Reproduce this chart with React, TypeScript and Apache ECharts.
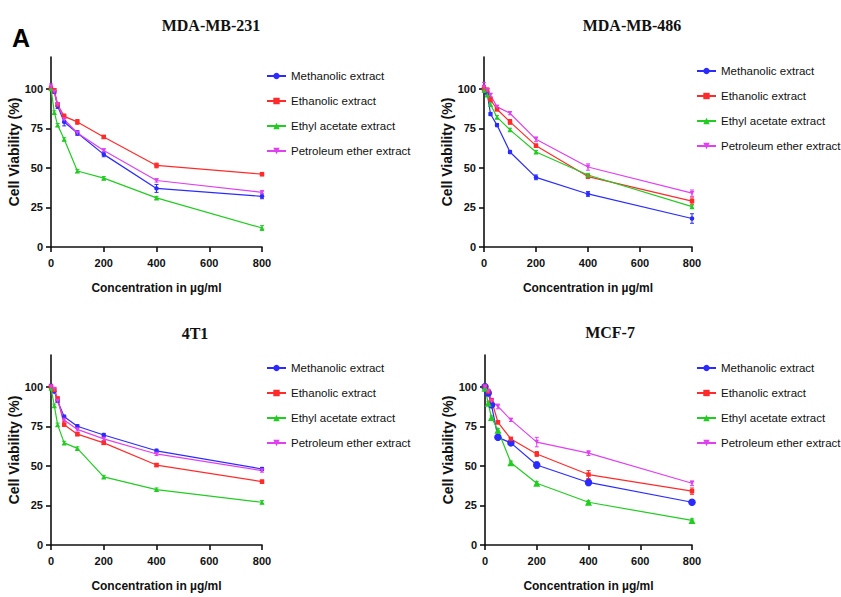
import React, { useEffect, useRef } from "react";
import * as echarts from "echarts";

// ---- Data ----
const concentrations = [0, 12.5, 25, 50, 100, 200, 400, 800];
const seriesNames = [
  "Methanolic extract",
  "Ethanolic extract",
  "Ethyl acetate extract",
  "Petroleum ether extract",
];
const panelTitles = ["MDA-MB-231", "MDA-MB-486", "4T1", "MCF-7"];
const yTicks = [0, 25, 50, 75, 100];
const xTicks = [0, 200, 400, 600, 800];

// MDA-MB-231
const mda231Methanolic = [100, 98, 89, 79, 72, 58.5, 37, 32];
const mda231Ethanolic = [100, 99, 90, 82.5, 79, 69.5, 51.5, 46];
const mda231EthylAcetate = [100, 85, 77, 68, 48, 43.5, 31, 12];
const mda231Petroleum = [101, 98, 90, 80.5, 72, 61, 42, 34.5];
const mda231MethanolicErr = [1, 1, 1.5, 2.5, 1.5, 1.5, 2.5, 1.5];
const mda231EthanolicErr = [1, 1, 1, 1.5, 1.5, 1, 1.5, 1];
const mda231EthylAcetateErr = [1, 1, 1, 1, 1, 1, 1, 1.5];
const mda231PetroleumErr = [2, 1, 1, 1, 1, 1, 1, 1];

// MDA-MB-486
const mda486Methanolic = [100, 97, 84, 77, 60, 44, 33.5, 18];
const mda486Ethanolic = [100, 99, 93, 87, 79, 64, 44.5, 29];
const mda486EthylAcetate = [99, 96, 90, 82, 74, 60, 45.5, 25.5];
const mda486Petroleum = [101, 99, 96, 88.5, 84.5, 68, 50.5, 34];
const mda486MethanolicErr = [2, 1, 1, 1, 1, 1.5, 1.5, 3];
const mda486EthanolicErr = [1, 1.5, 1.5, 1, 1.5, 1, 1, 2];
const mda486EthylAcetateErr = [1, 1, 1, 1, 1, 1, 1, 1];
const mda486PetroleumErr = [3, 1, 1, 1, 1, 1.5, 2, 2];

// 4T1
const t41Methanolic = [100.5, 97, 91, 81, 75, 69.5, 59.5, 48];
const t41Ethanolic = [100, 98, 92.5, 76, 70, 64.5, 50.5, 40];
const t41EthylAcetate = [99, 88, 76, 64.5, 61, 43, 35, 27];
const t41Petroleum = [100, 98.5, 91, 79, 73, 67, 57.5, 47];
const t41MethanolicErr = [1, 1, 1, 1, 1, 1, 1, 1];
const t41EthanolicErr = [1, 1, 1, 1, 1, 1, 1, 1];
const t41EthylAcetateErr = [1, 1, 1, 1, 1, 1, 1, 1];
const t41PetroleumErr = [1, 1, 1, 1, 1, 1, 1, 1];

// MCF-7
const mcf7Methanolic = [100, 96, 88.5, 68, 64.5, 50.5, 39.5, 27];
const mcf7Ethanolic = [100, 97, 91.5, 77.5, 67, 57.5, 44.5, 34];
const mcf7EthylAcetate = [99, 89.5, 80.5, 72.5, 52, 39, 27, 15.5];
const mcf7Petroleum = [100, 97, 91, 87.5, 79, 65, 58, 39];
const mcf7MethanolicErr = [1, 1.5, 1.5, 1.5, 1.5, 2, 2, 1];
const mcf7EthanolicErr = [1.5, 1.5, 1, 1, 1, 1.5, 2.5, 2];
const mcf7EthylAcetateErr = [1, 1, 1, 1, 1, 1, 1, 1];
const mcf7PetroleumErr = [1.5, 1, 1, 1.5, 1, 3, 1.5, 1.5];

const panelValues = [
  [mda231Methanolic, mda231Ethanolic, mda231EthylAcetate, mda231Petroleum],
  [mda486Methanolic, mda486Ethanolic, mda486EthylAcetate, mda486Petroleum],
  [t41Methanolic, t41Ethanolic, t41EthylAcetate, t41Petroleum],
  [mcf7Methanolic, mcf7Ethanolic, mcf7EthylAcetate, mcf7Petroleum],
];
const panelErrors = [
  [mda231MethanolicErr, mda231EthanolicErr, mda231EthylAcetateErr, mda231PetroleumErr],
  [mda486MethanolicErr, mda486EthanolicErr, mda486EthylAcetateErr, mda486PetroleumErr],
  [t41MethanolicErr, t41EthanolicErr, t41EthylAcetateErr, t41PetroleumErr],
  [mcf7MethanolicErr, mcf7EthanolicErr, mcf7EthylAcetateErr, mcf7PetroleumErr],
];

// ---- Styles ----
const colors = ["#2b2bff", "#ff2b2b", "#22cc22", "#e040f0"];
const symbols = ["circle", "rect", "triangle", "triangle"];
const symbolRotates = [0, 0, 0, 180];
const symbolSizesDefault = [4.5, 4.5, 5, 4.5];
const symbolSizesMCF = [7.5, 4.5, 7, 4.5];

const SANS = "'Liberation Sans', Arial, sans-serif";
const SERIF = "'Liberation Serif', 'Times New Roman', serif";

const grids = [
  { left: 51, top: 57, width: 211, height: 190 },
  { left: 484, top: 57, width: 208, height: 190 },
  { left: 51, top: 355, width: 211, height: 190 },
  { left: 485, top: 355, width: 207, height: 190 },
];
const legendPos = [
  { left: 266, top: 69 },
  { left: 696, top: 64 },
  { left: 266, top: 361 },
  { left: 696, top: 361 },
];
const titlePos = [
  { x: 211, y: 25 },
  { x: 632, y: 25 },
  { x: 195, y: 333 },
  { x: 610, y: 332 },
];

export default function App() {
  const ref = useRef<HTMLDivElement>(null);

  useEffect(() => {
    if (!ref.current) return;
    const chart = echarts.init(ref.current, undefined, { renderer: "svg" });

    const xAxes: any[] = [];
    const yAxes: any[] = [];
    const series: any[] = [];
    const legends: any[] = [];
    const graphics: any[] = [];

    grids.forEach((g, p) => {
      xAxes.push({
        type: "value",
        gridIndex: p,
        min: 0,
        max: 800,
        interval: 200,
        name: "Concentration in µg/ml",
        nameLocation: "middle",
        nameGap: 35,
        nameTextStyle: { fontFamily: SANS, fontWeight: "bold", fontSize: 12, color: "#111" },
        axisLine: { show: true, onZero: false, lineStyle: { color: "#111", width: 1.6 } },
        axisTick: { show: true, length: 5, lineStyle: { color: "#111", width: 1.6 } },
        axisLabel: { margin: 10, fontFamily: SANS, fontWeight: "bold", fontSize: 11, color: "#111", customValues: xTicks },
        splitLine: { show: false },
      });
      yAxes.push({
        type: "value",
        gridIndex: p,
        min: 0,
        max: 120,
        interval: 25,
        name: "Cell Viability (%)",
        nameLocation: "middle",
        nameGap: 28,
        nameTextStyle: { fontFamily: SANS, fontWeight: "bold", fontSize: 14, color: "#111" },
        axisLine: { show: true, onZero: false, lineStyle: { color: "#111", width: 1.6 } },
        axisTick: { show: true, length: 5, lineStyle: { color: "#111", width: 1.6 }, customValues: yTicks },
        axisLabel: { margin: 8, fontFamily: SANS, fontWeight: "bold", fontSize: 11, color: "#111", customValues: yTicks },
        splitLine: { show: false },
      });

      const sizes = p === 3 ? symbolSizesMCF : symbolSizesDefault;
      seriesNames.forEach((name, s) => {
        const vals = panelValues[p][s];
        const errs = panelErrors[p][s];
        series.push({
          type: "line",
          name,
          xAxisIndex: p,
          yAxisIndex: p,
          data: concentrations.map((x, j) => [x, vals[j]]),
          symbol: symbols[s],
          symbolRotate: symbolRotates[s],
          symbolSize: sizes[s],
          showAllSymbol: true,
          clip: false,
          color: colors[s],
          lineStyle: { color: colors[s], width: 1.2 },
          itemStyle: { color: colors[s] },
          z: 3,
        });
        series.push({
          type: "custom",
          name: name + " error",
          xAxisIndex: p,
          yAxisIndex: p,
          clip: false,
          z: 2,
          encode: { x: 0, y: [1, 2] },
          data: concentrations.map((x, j) => [x, vals[j] - errs[j], vals[j] + errs[j]]),
          renderItem: (params: any, api: any) => {
            const x = api.value(0);
            const lo = api.coord([x, api.value(1)]);
            const hi = api.coord([x, api.value(2)]);
            const w = 2;
            const st = { stroke: colors[s], lineWidth: 1 };
            return {
              type: "group",
              children: [
                { type: "line", shape: { x1: lo[0], y1: lo[1], x2: hi[0], y2: hi[1] }, style: st },
                { type: "line", shape: { x1: lo[0] - w, y1: lo[1], x2: lo[0] + w, y2: lo[1] }, style: st },
                { type: "line", shape: { x1: hi[0] - w, y1: hi[1], x2: hi[0] + w, y2: hi[1] }, style: st },
              ],
            };
          },
        });
      });

      legends.push({
        orient: "vertical",
        left: legendPos[p].left,
        top: legendPos[p].top,
        padding: 0,
        data: seriesNames,
        itemWidth: 19,
        itemHeight: 8,
        itemGap: 11,
        selectedMode: false,
        textStyle: { fontFamily: SANS, fontSize: 11.5, color: "#111", lineHeight: 14 },
      });

      graphics.push({
        type: "text",
        x: titlePos[p].x,
        y: titlePos[p].y,
        style: {
          text: panelTitles[p],
          fontFamily: SERIF,
          fontWeight: "bold",
          fontSize: 16,
          fill: "#111",
          textAlign: "center",
          textVerticalAlign: "middle",
        },
      });
    });

    graphics.push({
      type: "text",
      x: 12,
      y: 38,
      style: {
        text: "A",
        fontFamily: SANS,
        fontWeight: "bold",
        fontSize: 25,
        fill: "#000",
        textAlign: "left",
        textVerticalAlign: "middle",
      },
    });

    chart.setOption({
      animation: false,
      backgroundColor: "#ffffff",
      grid: grids.map((g) => ({ ...g, containLabel: false })),
      xAxis: xAxes,
      yAxis: yAxes,
      legend: legends,
      series,
      graphic: graphics,
    });

    return () => chart.dispose();
  }, []);

  return (
    <div
      ref={ref}
      style={{ position: "fixed", left: 0, top: 0, width: 841, height: 597, background: "#fff" }}
    />
  );
}
